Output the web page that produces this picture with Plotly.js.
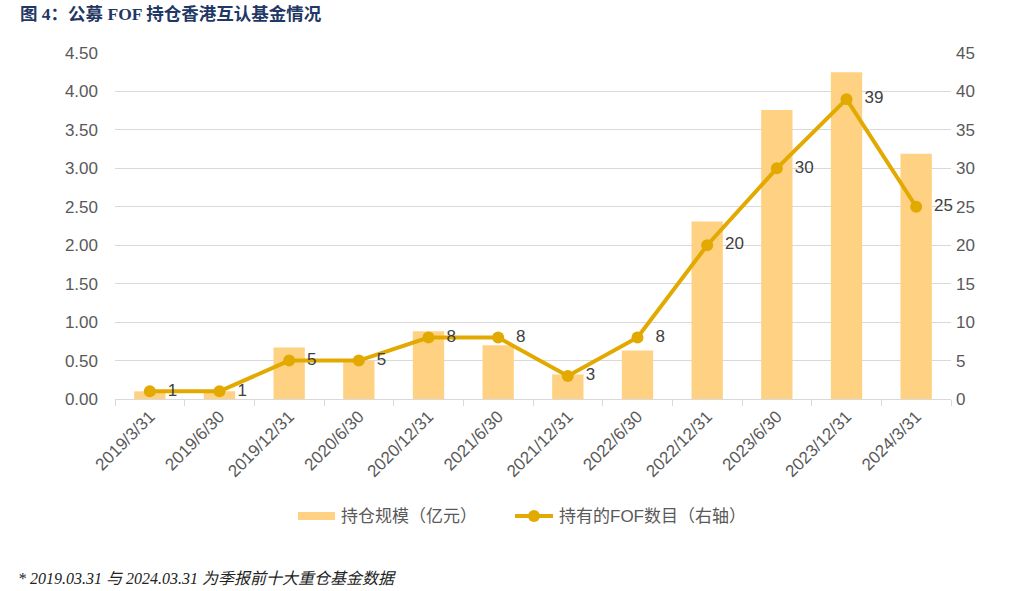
<!DOCTYPE html>
<html>
<head>
<meta charset="utf-8">
<script src="https://cdn.plot.ly/plotly-3.0.1.min.js"></script>
<style>html,body{margin:0;padding:0;background:#fff;}#chart{width:1013px;height:591px;}</style>
</head>
<body>
<div id="chart"></div>
<script>
const categories = ["2019/3/31","2019/6/30","2019/12/31","2020/6/30","2020/12/31","2021/6/30","2021/12/31","2022/6/30","2022/12/31","2023/6/30","2023/12/31","2024/3/31"];
const holdingScale = [0.10, 0.10, 0.67, 0.50, 0.88, 0.70, 0.32, 0.63, 2.31, 3.76, 4.25, 3.19];
const fofCount = [1, 1, 5, 5, 8, 8, 3, 8, 20, 30, 39, 25];
const leftTicks = [0,0.5,1,1.5,2,2.5,3,3.5,4,4.5];
const rightTicks = [0,5,10,15,20,25,30,35,40,45];
const legendNames = ['持仓规模（亿元）', '持有的FOF数目（右轴）'];

const sans = 'Arial, "Liberation Sans", "Noto Sans CJK SC", sans-serif';
const serif = '"Liberation Serif", "Noto Sans CJK SC", serif';
const BAR = '#FFD283', LINE = '#E2A900';

// pixel -> paper helpers (plot area: x 115..951, y 53..399)
const L = 115, R = 951, T = 53, B = 399;
const px = v => (v - L) / (R - L);
const py = v => (B - v) / (B - T);

const traces = [
  {
    type: 'bar', name: legendNames[0], x: categories, y: holdingScale,
    marker: {color: BAR}, width: 0.45, yaxis: 'y', showlegend: false
  },
  {
    type: 'scatter', mode: 'lines+markers+text', name: legendNames[1],
    x: categories, y: fofCount, yaxis: 'y2', showlegend: false,
    line: {color: LINE, width: 4},
    marker: {color: LINE, size: 12},
    text: fofCount.map(v => '\u00a0\u00a0' + v), textposition: 'middle right',
    textfont: {family: sans, size: 17, color: '#404040'},
    cliponaxis: false
  }
];

const layout = {
  width: 1013, height: 591,
  margin: {l: L, r: 1013 - R, t: T, b: 591 - B, autoexpand: false},
  paper_bgcolor: '#fff', plot_bgcolor: '#fff',
  font: {family: sans, color: '#595959'},
  showlegend: false,
  bargap: 0.55,
  xaxis: {
    type: 'category', range: [-0.5, categories.length - 0.5], autorange: false,
    tickangle: -45, tickfont: {family: sans, size: 17, color: '#595959'},
    showline: true, linecolor: '#D9D9D9', linewidth: 1, automargin: false,
    ticks: 'outside', tickson: 'boundaries', ticklen: 6, tickcolor: '#D9D9D9',
    showgrid: false, zeroline: false
  },
  yaxis: {
    range: [0, 4.5], tickvals: leftTicks, tickformat: '.2f', automargin: false,
    tickfont: {family: sans, size: 17, color: '#595959'},
    showgrid: true, gridcolor: '#D9D9D9', gridwidth: 1, zeroline: false,
    showline: false, ticks: '', ticklabelstandoff: 16
  },
  yaxis2: {
    range: [0, 45], tickvals: rightTicks, overlaying: 'y', side: 'right', automargin: false,
    tickfont: {family: sans, size: 17, color: '#595959'},
    showgrid: false, zeroline: false, showline: false, ticks: '', ticklabelstandoff: 4
  },
  shapes: [
    {type: 'rect', xref: 'paper', yref: 'paper', x0: px(298), x1: px(335), y0: py(520), y1: py(512),
      fillcolor: BAR, line: {width: 0}},
    {type: 'line', xref: 'paper', yref: 'paper', x0: px(515), x1: px(553), y0: py(516), y1: py(516),
      line: {color: LINE, width: 4}},
    {type: 'circle', xref: 'paper', yref: 'paper', x0: px(528), x1: px(540), y0: py(522), y1: py(510),
      fillcolor: LINE, line: {width: 0}}
  ],
  annotations: [
    {text: '<b>图 4：公募 FOF 持仓香港互认基金情况</b>', xref: 'paper', yref: 'paper',
      x: px(18), y: py(14), xanchor: 'left', yanchor: 'middle', showarrow: false,
      font: {family: serif, size: 17.5, color: '#1F3864'}},
    {text: legendNames[0], xref: 'paper', yref: 'paper', x: px(339), y: py(516),
      xanchor: 'left', yanchor: 'middle', showarrow: false,
      font: {family: sans, size: 17, color: '#595959'}},
    {text: legendNames[1], xref: 'paper', yref: 'paper', x: px(557), y: py(516),
      xanchor: 'left', yanchor: 'middle', showarrow: false,
      font: {family: sans, size: 17, color: '#595959'}},
    {text: '<i>* 2019.03.31 与 2024.03.31 为季报前十大重仓基金数据</i>', xref: 'paper', yref: 'paper',
      x: px(16), y: py(578), xanchor: 'left', yanchor: 'middle', showarrow: false,
      font: {family: serif, size: 16, color: '#222'}}
  ]
};

Plotly.newPlot('chart', traces, layout, {displayModeBar: false, staticPlot: true});
</script>
</body>
</html>
